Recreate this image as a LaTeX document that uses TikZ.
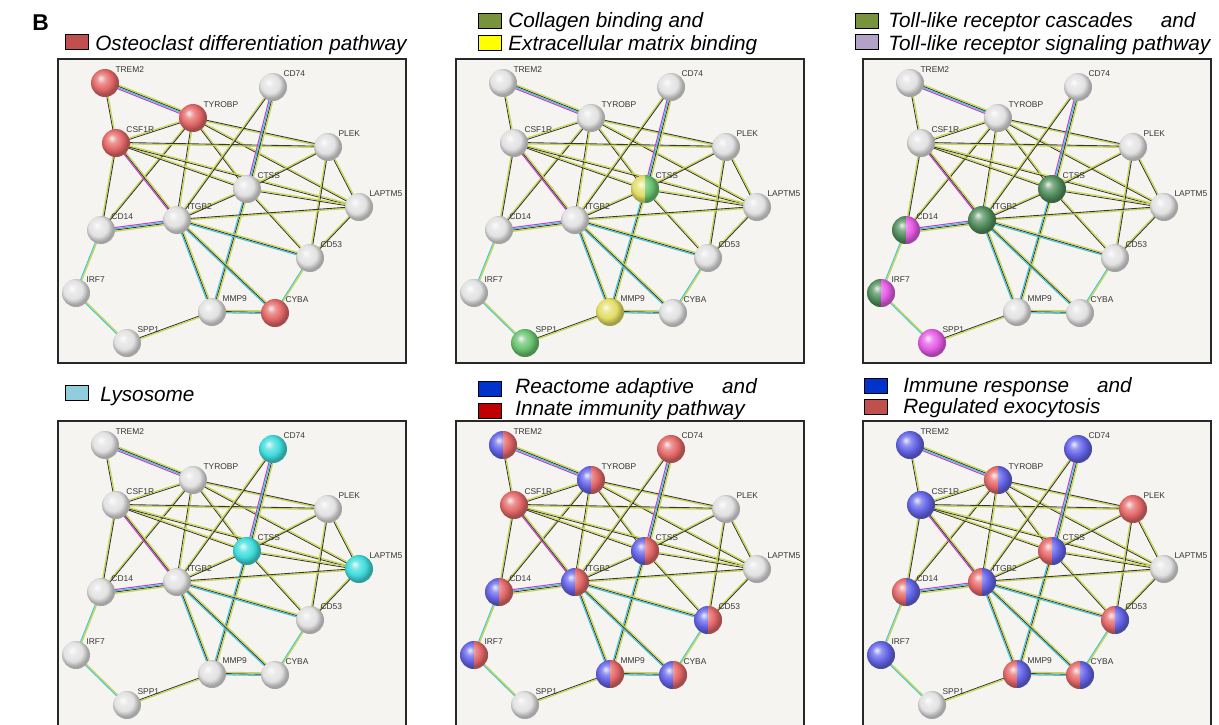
\documentclass[tikz,border=0pt]{standalone}
\usepackage{fontspec}
\setmainfont{Liberation Sans}
\usepackage{xcolor}
\definecolor{frmfill}{RGB}{245,244,240}
\definecolor{frmline}{RGB}{40,40,40}
\definecolor{labgrey}{RGB}{55,55,55}
\definecolor{ngrey}{RGB}{226,226,226}
\definecolor{nred}{RGB}{228,104,104}
\definecolor{ngreen}{RGB}{105,195,112}
\definecolor{nyellow}{RGB}{226,222,100}
\definecolor{ndkgreen}{RGB}{82,142,92}
\definecolor{nmagenta}{RGB}{230,92,230}
\definecolor{ncyan}{RGB}{64,220,220}
\definecolor{nblue}{RGB}{100,100,232}
\definecolor{kred}{RGB}{192,80,77}
\definecolor{kgreen}{RGB}{119,147,60}
\definecolor{kyellow}{RGB}{255,255,0}
\definecolor{klilac}{RGB}{179,162,199}
\definecolor{kcyan}{RGB}{146,205,220}
\definecolor{kblue}{RGB}{0,51,204}
\definecolor{kdkred}{RGB}{192,0,0}
\definecolor{cTxt}{RGB}{200,214,80}
\definecolor{cCo}{RGB}{55,55,55}
\definecolor{cDb}{RGB}{60,198,220}
\definecolor{cEx}{RGB}{205,60,205}
\colorlet{ballcol}{ngrey}
\usetikzlibrary{calc}
\pgfdeclarelayer{frame}
\pgfdeclarelayer{edges}
\pgfsetlayers{frame,edges,main}

% soft sphere look of the STRING nodes
\pgfdeclareradialshading[ballcol]{softball}{\pgfqpoint{-8bp}{9bp}}{%
  color(0bp)=(ballcol!12!white);
  color(8bp)=(ballcol!70!white);
  color(17bp)=(ballcol);
  color(25bp)=(ballcol!72!black);
  color(50bp)=(ballcol!72!black)}

% default look of every gene (grey ball), panels override some of them
\tikzset{TREM2/.style={},TYROBP/.style={},CSF1R/.style={},CD74/.style={},
  PLEK/.style={},CTSS/.style={},LAPTM5/.style={},ITGB2/.style={},CD14/.style={},
  CD53/.style={},IRF7/.style={},MMP9/.style={},CYBA/.style={},SPP1/.style={}}

% one STRING edge = parallel strands, one per evidence colour
\newcommand\lnk[3]{%
  \foreach \c [count=\i] in #3 {%
    \pgfmathsetmacro\o{(\i-1.5)*0.72}%
    \draw[\c] ($(#1)!\o pt!90:(#2)$) -- ($(#2)!\o pt!-90:(#1)$);}}

% the network of one panel, #1 = prefix of the node names
\newcommand\genenet[1]{%
  \foreach \g/\x/\y in {TREM2/47/24,TYROBP/135/59,CSF1R/58/84,CD74/215/28,
      PLEK/270/88,CTSS/189/130,LAPTM5/301/148,ITGB2/119/161,CD14/43/171,
      CD53/252/199,IRF7/18/234,MMP9/154/253,CYBA/217/254,SPP1/69/284}
    \node[gene,\g,label={[lbl]above right:\g}] (#1\g) at (\x,\y) {};
  \begin{pgfonlayer}{edges}
  \foreach \a/\b/\s in {TREM2/TYROBP/{ex,db,co,tx},TREM2/CSF1R/{co,tx},
      CSF1R/TYROBP/{co,tx},TYROBP/PLEK/{tx,co},TYROBP/LAPTM5/{co,tx},
      TYROBP/CTSS/{co,tx},TYROBP/ITGB2/{co,tx},TYROBP/CD14/{tx,co},
      CSF1R/PLEK/{tx,co},CSF1R/CTSS/{co,tx},CSF1R/LAPTM5/{co,tx},
      CSF1R/CD14/{tx,co},CSF1R/ITGB2/{ex,co,tx},CD74/CTSS/{ex,db,co,tx},
      CD74/ITGB2/{tx,co},PLEK/CTSS/{tx,co},PLEK/LAPTM5/{co,tx},
      PLEK/CD53/{tx,co},CTSS/LAPTM5/{co,tx},CTSS/ITGB2/{tx,co},
      CTSS/CD53/{co,tx},CTSS/MMP9/{db,co,tx},ITGB2/LAPTM5/{tx,co},
      ITGB2/CD14/{ex,db,co,tx},ITGB2/CD53/{db,co,tx},ITGB2/MMP9/{db,co,tx},
      ITGB2/CYBA/{db,co,tx},LAPTM5/CD53/{tx,co},CD53/CYBA/{db,tx},
      CD14/IRF7/{db,tx},IRF7/SPP1/{db,tx},MMP9/SPP1/{co,tx},
      MMP9/CYBA/{db,co,tx}}
    {\lnk{#1\a}{#1\b}{\s}}
  \end{pgfonlayer}}

\begin{document}
\begin{tikzpicture}[x=0.02cm,y=-0.02cm,
  sphere/.style={shade,shading=softball,/utils/exec={\colorlet{ballcol}{#1}}},
  gene/.style={circle,minimum size=0.56cm,inner sep=0pt,sphere=ngrey,
    label distance=1.8pt},
  one/.style={sphere=#1},
  two/.style 2 args={path picture={
    \begin{scope}
      \clip (path picture bounding box.south west) rectangle (path picture bounding box.north);
      \shade[sphere=#1] (path picture bounding box.center) circle[radius=0.28cm];
    \end{scope}
    \begin{scope}
      \clip (path picture bounding box.south) rectangle (path picture bounding box.north east);
      \shade[sphere=#2] (path picture bounding box.center) circle[radius=0.28cm];
    \end{scope}}},
  lbl/.style={font=\fontsize{4.8}{5}\selectfont,text=labgrey,inner sep=0pt},
  tx/.style={cTxt,line width=0.7pt},
  co/.style={cCo,line width=0.5pt},
  db/.style={cDb,line width=0.6pt},
  ex/.style={cEx,line width=0.6pt},
  frm/.style={draw=frmline,fill=frmfill,line width=0.8pt},
  key/.style={draw=black,line width=0.6pt,minimum width=0.46cm,
    minimum height=0.31cm,inner sep=0pt},
  ttl/.style={font=\fontsize{11.8}{14}\selectfont\itshape,anchor=base west,
    inner sep=0pt}]
\useasboundingbox (0,0) rectangle (1219,724);

\node[font=\fontsize{13}{15}\selectfont\bfseries,anchor=base west,inner sep=0pt]
  (panelB) at (32,30) {B};

% top left: osteoclast
\node[key,fill=kred] (ka) at (77,42) {};
\node[ttl] (ta) at (95,50) {Osteoclast differentiation pathway};
\begin{scope}[shift={(58,59)},TREM2/.style={one=nred},TYROBP/.style={one=nred},
    CSF1R/.style={one=nred},CYBA/.style={one=nred}]
  \begin{pgfonlayer}{frame}\draw[frm] (0,0) rectangle (348,304);\end{pgfonlayer}
  \genenet{a}
\end{scope}

% top middle: collagen / ECM binding
\node[key,fill=kgreen] (kb1) at (490,21) {};
\node[key,fill=kyellow] (kb2) at (490,43) {};
\node[ttl] (tb1) at (508,27) {Collagen binding and};
\node[ttl] (tb2) at (508,50) {Extracellular matrix binding};
\begin{scope}[shift={(456,59)},CTSS/.style={two={nyellow}{ngreen}},
    MMP9/.style={one=nyellow},SPP1/.style={one=ngreen}]
  \begin{pgfonlayer}{frame}\draw[frm] (0,0) rectangle (348,304);\end{pgfonlayer}
  \genenet{b}
\end{scope}

% top right: toll-like receptor
\node[key,fill=kgreen] (kc1) at (867,21) {};
\node[key,fill=klilac] (kc2) at (867,42) {};
\node[ttl] (tc1) at (888,27) {Toll-like receptor cascades\hspace{12.6pt} and};
\node[ttl] (tc2) at (888,50) {Toll-like receptor signaling pathway};
\begin{scope}[shift={(863,59)},CTSS/.style={one=ndkgreen},ITGB2/.style={one=ndkgreen},
    CD14/.style={two={ndkgreen}{nmagenta}},IRF7/.style={two={ndkgreen}{nmagenta}},
    SPP1/.style={one=nmagenta}]
  \begin{pgfonlayer}{frame}\draw[frm] (0,0) rectangle (348,304);\end{pgfonlayer}
  \genenet{c}
\end{scope}

% bottom left: lysosome
\node[key,fill=kcyan] (kd) at (77,393) {};
\node[ttl] (td) at (100,401) {Lysosome};
\begin{scope}[shift={(58,421)},CD74/.style={one=ncyan},CTSS/.style={one=ncyan},
    LAPTM5/.style={one=ncyan}]
  \begin{pgfonlayer}{frame}\draw[frm] (0,0) rectangle (348,306);\end{pgfonlayer}
  \genenet{d}
\end{scope}

% bottom middle: adaptive / innate immunity
\node[key,fill=kblue] (ke1) at (490,389) {};
\node[key,fill=kdkred] (ke2) at (490,411) {};
\node[ttl] (te1) at (515,393) {Reactome adaptive\hspace{12.8pt} and};
\node[ttl] (te2) at (515,415) {Innate immunity pathway};
\begin{scope}[shift={(456,421)},TREM2/.style={two={nblue}{nred}},
    TYROBP/.style={two={nblue}{nred}},CD74/.style={one=nred},CSF1R/.style={one=nred},
    CTSS/.style={two={nblue}{nred}},ITGB2/.style={two={nblue}{nred}},
    CD14/.style={two={nblue}{nred}},CD53/.style={two={nblue}{nred}},
    IRF7/.style={two={nblue}{nred}},MMP9/.style={two={nblue}{nred}},
    CYBA/.style={two={nblue}{nred}}]
  \begin{pgfonlayer}{frame}\draw[frm] (0,0) rectangle (348,306);\end{pgfonlayer}
  \genenet{e}
\end{scope}

% bottom right: immune response / exocytosis
\node[key,fill=kblue] (kf1) at (876,386) {};
\node[key,fill=kred] (kf2) at (876,407) {};
\node[ttl] (tf1) at (903,392) {Immune response\hspace{12.6pt} and};
\node[ttl] (tf2) at (903,413) {Regulated exocytosis};
\begin{scope}[shift={(863,421)},TREM2/.style={one=nblue},CD74/.style={one=nblue},
    CSF1R/.style={one=nblue},IRF7/.style={one=nblue},PLEK/.style={one=nred},
    TYROBP/.style={two={nred}{nblue}},CTSS/.style={two={nred}{nblue}},
    ITGB2/.style={two={nred}{nblue}},CD14/.style={two={nred}{nblue}},
    CD53/.style={two={nred}{nblue}},MMP9/.style={two={nred}{nblue}},
    CYBA/.style={two={nred}{nblue}}]
  \begin{pgfonlayer}{frame}\draw[frm] (0,0) rectangle (348,306);\end{pgfonlayer}
  \genenet{f}
\end{scope}
\end{tikzpicture}
\end{document}
